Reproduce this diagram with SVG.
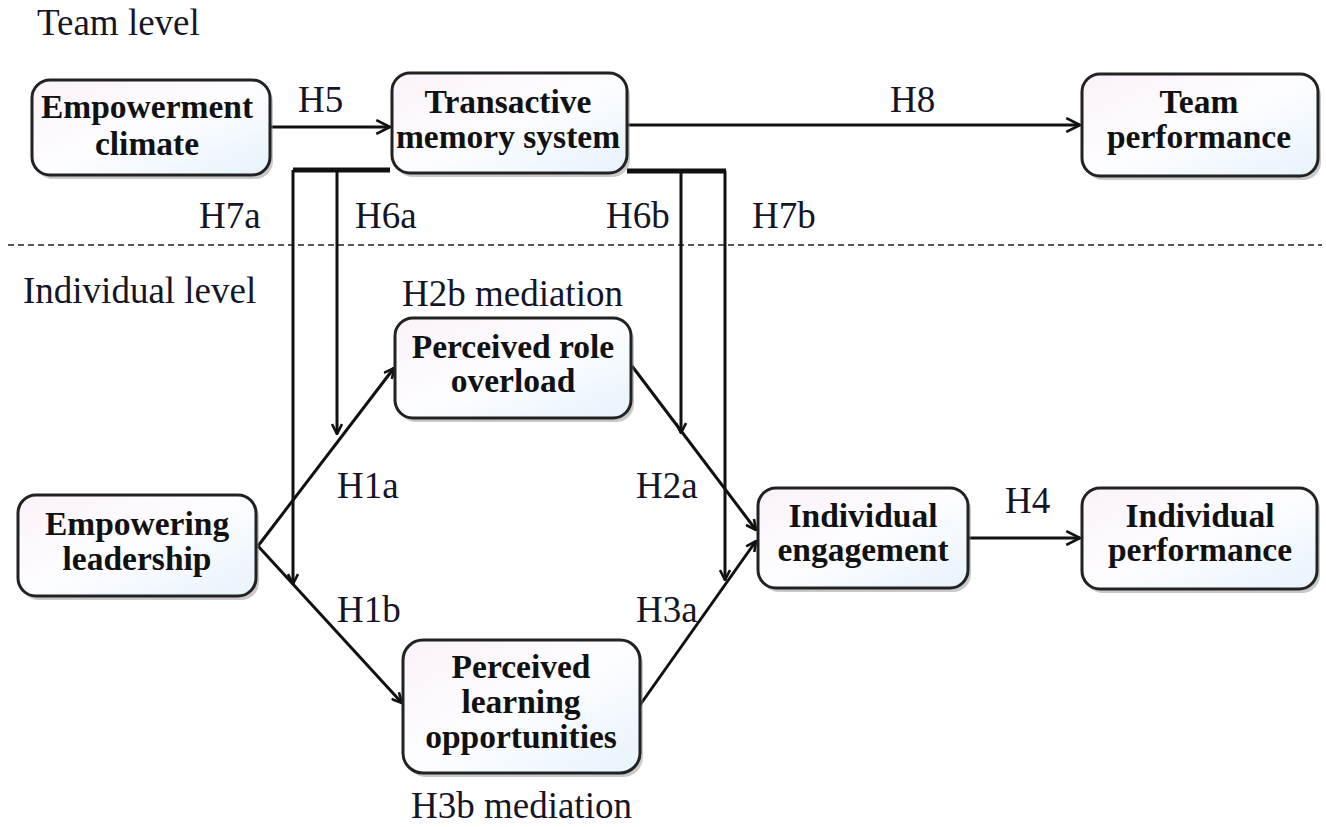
<svg xmlns="http://www.w3.org/2000/svg" width="1326" height="827" viewBox="0 0 1326 827">
<defs>
<linearGradient id="fill" x1="0" y1="0" x2="1" y2="1">
<stop offset="0" stop-color="#fbf2f9"/>
<stop offset="0.5" stop-color="#fdfdff"/>
<stop offset="1" stop-color="#e6f3fb"/>
</linearGradient>
<marker id="arr" viewBox="0 0 12 12" refX="11" refY="6" markerWidth="12" markerHeight="12" markerUnits="userSpaceOnUse" orient="auto">
<path d="M1,1 L11,6 L1,11" fill="none" stroke="#111" stroke-width="2.6"/>
</marker>
<marker id="arr2" viewBox="0 0 14 14" refX="13" refY="7" markerWidth="16" markerHeight="16" markerUnits="userSpaceOnUse" orient="auto">
<path d="M1,1 L13,7 L1,13" fill="none" stroke="#111" stroke-width="2.4"/>
</marker>
</defs>
<style>
.box{fill:url(#fill);stroke:#222;stroke-width:3}
.sh{fill:#888;opacity:0.45}
.bt{font-family:"Liberation Serif",serif;font-weight:bold;font-size:33.5px;fill:#111;text-anchor:middle}
.lb{font-family:"Liberation Serif",serif;font-size:37px;fill:#151528}
.ln{stroke:#111;stroke-width:3;fill:none}
.bar{stroke:#111;stroke-width:5;fill:none}
</style>
<rect width="1326" height="827" fill="#fff"/>

<text class="lb" x="37" y="35">Team level</text>
<text class="lb" x="23" y="303">Individual level</text>
<line x1="8" y1="245" x2="1322" y2="245" stroke="#222" stroke-width="1.5" stroke-dasharray="6 4"/>

<g id="connectors">
<line class="ln" x1="270" y1="127" x2="390" y2="127" marker-end="url(#arr2)"/>
<line class="ln" x1="627" y1="125" x2="1080" y2="125" marker-end="url(#arr2)"/>
<line class="ln" x1="968" y1="538" x2="1080" y2="538" marker-end="url(#arr2)"/>
<polyline class="bar" points="390,170 293,170"/>
<line class="ln" x1="293" y1="170" x2="293" y2="584" marker-end="url(#arr)"/>
<line class="ln" x1="337" y1="170" x2="337" y2="434" marker-end="url(#arr)"/>
<polyline class="bar" points="627,171 726,171"/>
<line class="ln" x1="681" y1="171" x2="681" y2="433" marker-end="url(#arr)"/>
<line class="ln" x1="725" y1="171" x2="725" y2="580" marker-end="url(#arr)"/>
<line class="ln" x1="258" y1="546" x2="394" y2="368" marker-end="url(#arr)"/>
<line class="ln" x1="258" y1="546" x2="402" y2="703" marker-end="url(#arr)"/>
<line class="ln" x1="632" y1="366" x2="756" y2="530" marker-end="url(#arr)"/>
<line class="ln" x1="640" y1="705" x2="756" y2="541" marker-end="url(#arr)"/>
</g>

<text class="lb" x="298" y="112">H5</text>
<text class="lb" x="890" y="112">H8</text>
<text class="lb" x="199" y="228">H7a</text>
<text class="lb" x="355" y="228">H6a</text>
<text class="lb" x="606" y="228">H6b</text>
<text class="lb" x="752" y="228">H7b</text>
<text class="lb" x="402" y="306">H2b mediation</text>
<text class="lb" x="337" y="498">H1a</text>
<text class="lb" x="636" y="498">H2a</text>
<text class="lb" x="337" y="622">H1b</text>
<text class="lb" x="636" y="622">H3a</text>
<text class="lb" x="1005" y="513">H4</text>
<text class="lb" x="411" y="818">H3b mediation</text>

<g id="empowerment-climate">
<rect class="sh" x="35" y="84" width="238" height="95" rx="18"/>
<rect class="box" x="32" y="80" width="238" height="95" rx="18"/>
<text class="bt" x="147" y="118">Empowerment</text>
<text class="bt" x="147" y="155">climate</text>
</g>
<g id="transactive-memory-system">
<rect class="sh" x="395" y="77" width="235" height="100" rx="18"/>
<rect class="box" x="392" y="73" width="235" height="100" rx="18"/>
<text class="bt" x="508" y="113">Transactive</text>
<text class="bt" x="508" y="148">memory system</text>
</g>
<g id="team-performance">
<rect class="sh" x="1085" y="78" width="236" height="102" rx="18"/>
<rect class="box" x="1082" y="74" width="236" height="102" rx="18"/>
<text class="bt" x="1199" y="113">Team</text>
<text class="bt" x="1199" y="148">performance</text>
</g>
<g id="perceived-role-overload">
<rect class="sh" x="398" y="322" width="236" height="100" rx="18"/>
<rect class="box" x="395" y="318" width="236" height="100" rx="18"/>
<text class="bt" x="513" y="358">Perceived role</text>
<text class="bt" x="513" y="392">overload</text>
</g>
<g id="empowering-leadership">
<rect class="sh" x="21" y="499" width="238" height="101" rx="18"/>
<rect class="box" x="18" y="495" width="238" height="101" rx="18"/>
<text class="bt" x="137" y="535">Empowering</text>
<text class="bt" x="137" y="570">leadership</text>
</g>
<g id="individual-engagement">
<rect class="sh" x="761" y="492" width="210" height="100" rx="18"/>
<rect class="box" x="758" y="488" width="210" height="100" rx="18"/>
<text class="bt" x="863" y="527">Individual</text>
<text class="bt" x="863" y="561">engagement</text>
</g>
<g id="individual-performance">
<rect class="sh" x="1085" y="492" width="235" height="101" rx="18"/>
<rect class="box" x="1082" y="488" width="235" height="101" rx="18"/>
<text class="bt" x="1200" y="527">Individual</text>
<text class="bt" x="1200" y="561">performance</text>
</g>
<g id="perceived-learning-opportunities">
<rect class="sh" x="406" y="644" width="237" height="133" rx="20"/>
<rect class="box" x="403" y="640" width="237" height="133" rx="20"/>
<text class="bt" x="521" y="678">Perceived</text>
<text class="bt" x="521" y="713">learning</text>
<text class="bt" x="521" y="748">opportunities</text>
</g>
</svg>
